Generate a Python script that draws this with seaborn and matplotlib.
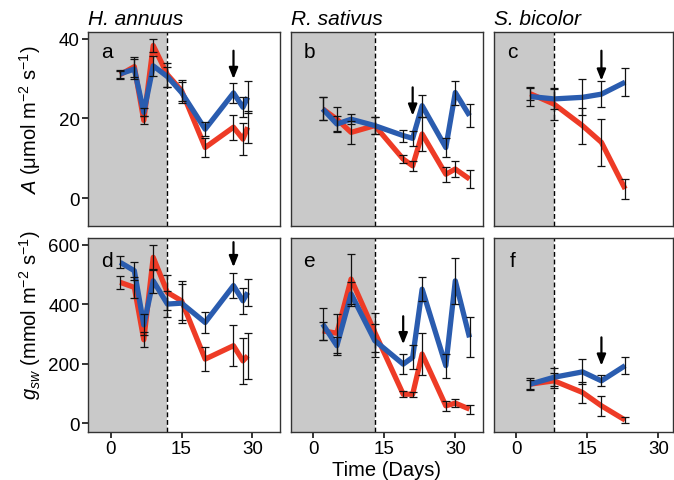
import numpy as np
import pandas as pd
import matplotlib
matplotlib.use("Agg")
import matplotlib.pyplot as plt
import seaborn as sns

# ---------------- data ----------------
species = ["H. annuus", "R. sativus", "S. bicolor"]
panel_letters_top = ["a", "b", "c"]
panel_letters_bot = ["d", "e", "f"]

days_ha = [2, 5, 7, 9, 12, 15, 20, 26, 28, 29]
A_ha_control = [31.2, 32.4, 21.5, 33.2, 30.5, 26.5, 17.3, 26.4, 22.8, 25.3]
A_ha_stress = [31.0, 33.0, 19.5, 38.3, 31.0, 27.0, 12.7, 17.8, 14.8, 17.8]
A_ha_control_se = [1.0, 2.5, 1.0, 2.5, 2.5, 2.7, 1.7, 2.5, 2.5, 4.0]
A_ha_stress_se = [1.0, 2.5, 1.0, 1.6, 3.0, 2.7, 2.5, 3.1, 4.0, 4.0]
g_ha_control = [540, 512, 330, 478, 400, 403, 338, 462, 411, 439]
g_ha_stress = [473, 456, 280, 557, 439, 411, 215, 260, 209, 226]
g_ha_control_se = [20, 30, 35, 40, 45, 65, 36, 42, 43, 45]
g_ha_stress_se = [22, 36, 25, 42, 60, 65, 40, 69, 78, 78]

days_rs = [2, 5, 8, 13, 19, 21, 23, 28, 30, 33]
A_rs_control = [22.4, 18.6, 19.8, 18.2, 15.7, 15.0, 23.2, 12.7, 26.5, 20.7]
A_rs_stress = [22.4, 19.8, 16.5, 18.2, 9.8, 8.1, 16.1, 6.0, 7.3, 4.8]
A_rs_control_se = [2.9, 2.0, 1.3, 2.2, 1.5, 1.9, 2.8, 2.3, 3.0, 2.9]
A_rs_stress_se = [2.9, 3.0, 2.9, 2.2, 1.0, 1.2, 4.2, 1.9, 2.1, 2.3]
g_rs_control = [333, 260, 434, 277, 198, 221, 450, 193, 478, 288]
g_rs_stress = [310, 302, 484, 305, 97, 97, 232, 58, 67, 47]
g_rs_control_se = [55, 30, 40, 55, 33, 40, 40, 40, 77, 67]
g_rs_stress_se = [30, 65, 85, 65, 10, 8, 70, 17, 14, 15]

days_sb = [3, 8, 14, 18, 23]
A_sb_control = [25.5, 24.9, 25.3, 26.1, 29.1]
A_sb_stress = [26.2, 23.6, 18.2, 14.0, 2.3]
A_sb_control_se = [2.3, 2.5, 4.5, 3.3, 3.5]
A_sb_stress_se = [1.5, 4.0, 4.5, 5.9, 2.5]
g_sb_control = [131, 154, 172, 142, 193]
g_sb_stress = [131, 142, 103, 58, 10]
g_sb_control_se = [20, 30, 42, 18, 28]
g_sb_stress_se = [15, 25, 36, 33, 9]

treatment_start = [12, 13, 8]           # dashed line / end of shaded period
arrow_day_A = [26, 21, 18]
arrow_day_g = [26, 19, 18]
arrow_A = [(37.0, 29.9), (27.8, 20.7), (37.0, 29.5)]
arrow_g = [(608, 524), (359, 265), (288, 193)]

x_ticks = [0, 15, 30]
A_ticks = [0, 20, 40]
g_ticks = [0, 200, 400, 600]

# ---------------- style ----------------
sns.set_theme(style="ticks")
plt.rcParams["font.family"] = ["Liberation Sans", "DejaVu Sans"]
plt.rcParams["mathtext.fontset"] = "custom"
plt.rcParams["mathtext.rm"] = "Liberation Sans"
plt.rcParams["mathtext.it"] = "Liberation Sans:italic"
plt.rcParams["mathtext.bf"] = "Liberation Sans:bold"
plt.rcParams["text.color"] = "black"
plt.rcParams["xtick.labelcolor"] = "black"
plt.rcParams["ytick.labelcolor"] = "black"

RED = "#ee3b26"
BLUE = "#2a5caf"
GREY = "#c9c9c9"
FS_TICK = 13.5
FS_LAB = 14.5
FS_TITLE = 15

W, H = 674, 481
fig = plt.figure(figsize=(W / 100, H / 100), dpi=100)

cols = [(88.3, 191.7), (290.7, 192.3), (494.3, 178.7)]
rows = [(33, 227), (239, 433)]
xlims = [(-4.75, 35.85), (-4.75, 35.85), (-4.6, 33.1)]
ylims = [(-7.0, 41.7), (-30.0, 622.0)]

datasets = [
    [(days_ha, A_ha_control, A_ha_stress, A_ha_control_se, A_ha_stress_se),
     (days_rs, A_rs_control, A_rs_stress, A_rs_control_se, A_rs_stress_se),
     (days_sb, A_sb_control, A_sb_stress, A_sb_control_se, A_sb_stress_se)],
    [(days_ha, g_ha_control, g_ha_stress, g_ha_control_se, g_ha_stress_se),
     (days_rs, g_rs_control, g_rs_stress, g_rs_control_se, g_rs_stress_se),
     (days_sb, g_sb_control, g_sb_stress, g_sb_control_se, g_sb_stress_se)],
]

letters = [panel_letters_top, panel_letters_bot]
letter_y = [36.7, 545]
arrows = [arrow_A, arrow_g]
arrow_days = [arrow_day_A, arrow_day_g]

for r, (top, bot) in enumerate(rows):
    for c, (left, width) in enumerate(cols):
        ax = fig.add_axes([left / W, (H - bot) / H, width / W, (bot - top) / H])
        days, ctrl, strs, ctrl_se, strs_se = datasets[r][c]
        df = pd.DataFrame({
            "day": list(days) * 2,
            "value": list(strs) + list(ctrl),
            "treatment": ["Stressed"] * len(days) + ["Control"] * len(days),
        })
        ax.set_xlim(*xlims[c])
        ax.set_ylim(*ylims[r])
        ax.axvspan(xlims[c][0], treatment_start[c], color=GREY, zorder=0, lw=0)
        ax.axvline(treatment_start[c], color="black", lw=1.0, ls=(0, (3.5, 2)), zorder=1)

        sns.lineplot(data=df, x="day", y="value", hue="treatment",
                     hue_order=["Stressed", "Control"],
                     palette={"Stressed": RED, "Control": BLUE},
                     lw=3.8, legend=False, ax=ax, errorbar=None, sort=True,
                     zorder=3)
        for line in ax.get_lines()[-2:]:
            line.set_solid_joinstyle("round")
            line.set_solid_capstyle("butt")
        ax.errorbar(days, strs, yerr=strs_se, fmt="none", ecolor="#111111",
                    elinewidth=0.9, capsize=3, capthick=0.9, zorder=5)
        ax.errorbar(days, ctrl, yerr=ctrl_se, fmt="none", ecolor="#111111",
                    elinewidth=0.9, capsize=3, capthick=0.9, zorder=5)

        ya, yb = arrows[r][c]
        xd = arrow_days[r][c]
        ax.annotate("", xy=(xd, yb), xytext=(xd, ya),
                    arrowprops=dict(arrowstyle="-|>,head_length=0.55,head_width=0.22",
                                    color="black", lw=1.6, shrinkA=0, shrinkB=0),
                    zorder=6)

        ax.text(-0.8, letter_y[r], letters[r][c], fontsize=FS_TITLE,
                ha="center", va="center", zorder=7, color="black")

        ax.set_xlabel("")
        ax.set_ylabel("")
        for s in ax.spines.values():
            s.set_color("#333333")
            s.set_linewidth(1.0)
            s.set_visible(True)

        ax.set_xticks(x_ticks)
        ax.set_yticks(A_ticks if r == 0 else g_ticks)
        ax.tick_params(axis="both", direction="out", length=4, width=1.4,
                       color="#333333", labelsize=FS_TICK, pad=2, labelcolor="black")
        if r == 0:
            ax.tick_params(axis="x", bottom=False, labelbottom=False)
            ax.text(0.0, 1 + 8 / 194, species[c], transform=ax.transAxes,
                    fontsize=FS_TITLE, style="italic", ha="left", va="baseline",
                    color="black")
        if c != 0:
            ax.tick_params(axis="y", left=False, labelleft=False)

fig.text(30 / W, 1 - 120 / H, r"$\it{A}$ (μmol m$^{-2}$ s$^{-1}$)",
         rotation=90, ha="center", va="center", fontsize=FS_LAB, color="black")
fig.text(30 / W, 1 - 315 / H, r"$g_{sw}$ (mmol m$^{-2}$ s$^{-1}$)",
         rotation=90, ha="center", va="center", fontsize=FS_LAB, color="black")
fig.text(386.7 / W, 1 - 470.5 / H, "Time (Days)", ha="center", va="center",
         fontsize=FS_LAB, color="black")

fig.savefig("out.png", dpi=100)
